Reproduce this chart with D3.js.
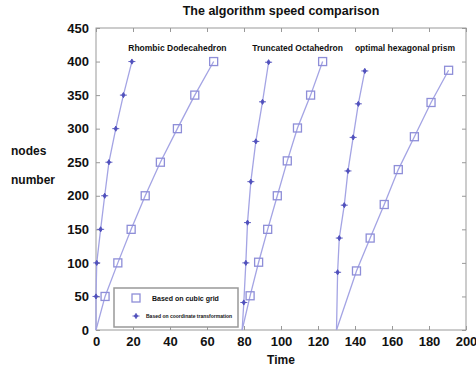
<!DOCTYPE html>
<html>
<head>
<meta charset="utf-8">
<script src="https://cdn.jsdelivr.net/npm/d3@7"></script>
<style>
  body { margin: 0; background: #fff; }
  text { font-family: "Liberation Sans", Arial, Helvetica, sans-serif; font-weight: bold; fill: #111; }
</style>
</head>
<body>
<div id="root"></div>
<script>
// values
var rhombicCubicX = [0, 4.9, 11.8, 19, 26.6, 34.8, 44, 53.4, 63.6];
var rhombicCubicY = [0, 50, 100, 150, 200, 250, 300, 350, 400];
var rhombicCoordX = [0, 0, 0.4, 2.5, 4.7, 7, 10.7, 14.8, 19.4];
var rhombicCoordY = [0, 50, 100, 150, 200, 250, 300, 350, 400];

var truncCubicX = [79, 83.3, 87.9, 92.8, 98, 103.4, 108.9, 116, 122.5];
var truncCubicY = [0, 51, 101, 150, 200, 252, 301, 350, 400];
var truncCoordX = [79, 79.9, 81, 81.9, 83.7, 86.4, 90, 93.3];
var truncCoordY = [0, 41, 100, 160, 221, 281, 340, 399];

var hexCubicX = [130, 140.8, 148.2, 155.8, 163.4, 172.1, 181.1, 190.6];
var hexCubicY = [0, 88, 137, 187, 239, 288, 339, 387];
var hexCoordX = [130, 130.6, 131.5, 134.2, 136.2, 139, 141.8, 145.3];
var hexCoordY = [0, 86, 137, 186, 237, 287, 337, 386];

var shapeNames = ["Rhombic Dodecahedron", "Truncated Octahedron", "optimal hexagonal prism"];
var shapeLabelX = [44, 109, 167];
var legendNames = ["Based on cubic grid", "Based on coordinate transformation"];
var xTicks = [0, 20, 40, 60, 80, 100, 120, 140, 160, 180, 200];
var yTicks = [0, 50, 100, 150, 200, 250, 300, 350, 400, 450];

var margin = {top: 28, right: 10, bottom: 38, left: 96},
    W = 476, H = 368,
    width = W - margin.left - margin.right,
    height = H - margin.top - margin.bottom;

var lineColor = "#a4a4e4", markColor = "#5050bc", boxColor = "#8e8ed8";

var svg = d3.select("#root").append("svg")
    .attr("width", W).attr("height", H);
var g = svg.append("g")
    .attr("transform", "translate(" + margin.left + "," + margin.top + ")");

var x = d3.scaleLinear().domain([0, 200]).range([0, width]);
var y = d3.scaleLinear().domain([0, 450]).range([height, 0]);

// frame
g.append("rect").attr("width", width).attr("height", height)
  .attr("fill", "none").attr("stroke", "#999").attr("stroke-width", 1);

// axes, ticks pointing inward (matlab style)
function styleAxis(sel) {
  sel.select(".domain").remove();
  sel.selectAll(".tick line").attr("stroke", "#999");
  sel.selectAll("text").style("font-size", "13px").attr("fill", "#111");
}
g.append("g").attr("transform", "translate(0," + height + ")")
  .call(d3.axisBottom(x).tickValues(xTicks).tickSizeInner(-4).tickPadding(7))
  .call(styleAxis);
g.append("g")
  .call(d3.axisLeft(y).tickValues(yTicks).tickSizeInner(-4).tickPadding(7))
  .call(styleAxis);
g.append("g")
  .call(d3.axisTop(x).tickValues(xTicks).tickSizeInner(-4).tickFormat(""))
  .call(styleAxis);
g.append("g").attr("transform", "translate(" + width + ",0)")
  .call(d3.axisRight(y).tickValues(yTicks).tickSizeInner(-4).tickFormat(""))
  .call(styleAxis);

var line = d3.line().x(function (d) { return x(d[0]); }).y(function (d) { return y(d[1]); });

function zip(a, b) { return a.map(function (v, i) { return [v, b[i]]; }); }

var starPath = "M-3.5,0L3.5,0M0,-2.6L1.6,0L0,2.6L-1.6,0Z";

function drawSeries(xs, ys, kind) {
  var pts = zip(xs, ys);
  g.append("path").datum(pts).attr("d", line)
    .attr("fill", "none").attr("stroke", lineColor).attr("stroke-width", 1.3);
  var m = g.append("g").selectAll("g").data(pts.slice(1)).enter().append("g")
    .attr("transform", function (d) { return "translate(" + x(d[0]) + "," + y(d[1]) + ")"; });
  if (kind === "box") {
    m.append("rect").attr("x", -4).attr("y", -4).attr("width", 8).attr("height", 8)
      .attr("fill", "none").attr("stroke", boxColor).attr("stroke-width", 1.3);
  } else {
    m.append("path").attr("d", starPath)
      .attr("fill", markColor).attr("stroke", markColor).attr("stroke-width", 0.9);
  }
}

drawSeries(rhombicCubicX, rhombicCubicY, "box");
drawSeries(rhombicCoordX, rhombicCoordY, "star");
drawSeries(truncCubicX, truncCubicY, "box");
drawSeries(truncCoordX, truncCoordY, "star");
drawSeries(hexCubicX, hexCubicY, "box");
drawSeries(hexCoordX, hexCoordY, "star");

// shape names
g.selectAll(".shape").data(shapeNames).enter().append("text")
  .attr("x", function (d, i) { return x(shapeLabelX[i]); })
  .attr("y", y(416))
  .attr("text-anchor", "middle")
  .style("font-size", "8.5px")
  .text(function (d) { return d; });

// legend
var lg = g.append("g").attr("transform", "translate(" + 18 + "," + (height - 42) + ")");
lg.append("rect").attr("width", 124).attr("height", 39)
  .attr("fill", "#fff").attr("stroke", "#999").attr("stroke-width", 1.5);
lg.append("rect").attr("x", 18).attr("y", 6).attr("width", 8).attr("height", 8)
  .attr("fill", "none").attr("stroke", boxColor).attr("stroke-width", 1.3);
lg.append("path").attr("d", starPath).attr("transform", "translate(22,28)")
  .attr("fill", markColor).attr("stroke", markColor).attr("stroke-width", 0.9);
lg.append("text").attr("x", 38).attr("y", 13).style("font-size", "7px").text(legendNames[0]);
lg.append("text").attr("x", 32).attr("y", 30).style("font-size", "5px").text(legendNames[1]);

// titles
svg.append("text").attr("x", margin.left + width / 2).attr("y", 15)
  .attr("text-anchor", "middle").style("font-size", "12.5px")
  .text("The algorithm speed comparison");
svg.append("text").attr("x", margin.left + width / 2).attr("y", 364)
  .attr("text-anchor", "middle").style("font-size", "12px").text("Time");
svg.append("text").attr("x", 11).attr("y", 155).style("font-size", "12px").text("nodes");
svg.append("text").attr("x", 11).attr("y", 184).style("font-size", "12px").text("number");
</script>
</body>
</html>
